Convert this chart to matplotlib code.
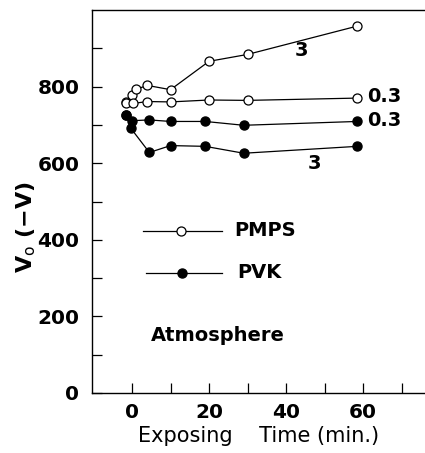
import numpy as np
import matplotlib.pyplot as plt

# PMPS (open circles)
pmps_3_t = [-1.5, 0, 1, 4, 10, 20, 30, 58.5]
pmps_3_v = [760, 778, 793, 803, 792, 866, 884, 958]
pmps_03_t = [-1.5, 0.3, 4, 10, 20, 30, 58.5]
pmps_03_v = [758, 756, 761, 760, 765, 764, 770]

# PVK (filled circles)
pvk_03_t = [-1.5, 0, 4.5, 10, 19, 29, 58.5]
pvk_03_v = [726, 711, 713, 709, 709, 699, 709]
pvk_3_t = [-1.5, -0.3, 4.5, 10, 19, 29, 58.5]
pvk_3_v = [726, 691, 628, 646, 644, 626, 644]

xticks = [0, 20, 40, 60]
yticks = [0, 200, 400, 600, 800]

fig = plt.figure(figsize=(4.25, 4.53), dpi=100)
ax = fig.add_axes([92/425, 1-393/453, 1-92/425, 383/453])

lw = 0.9
ms = 6.5
open_kw = dict(color='black', lw=lw, marker='o', ms=ms, mfc='white', mec='black', mew=0.9)
fill_kw = dict(color='black', lw=lw, marker='o', ms=ms, mfc='black', mec='black')

ax.plot(pmps_3_t, pmps_3_v, **open_kw)
ax.plot(pmps_03_t, pmps_03_v, **open_kw)
ax.plot(pvk_03_t, pvk_03_v, **fill_kw)
ax.plot(pvk_3_t, pvk_3_v, **fill_kw)

# curve labels
lab = dict(fontsize=14, fontweight='bold', va='center')
ax.text(44, 893, '3', ha='center', **lab)
ax.text(61, 773, '0.3', ha='left', **lab)
ax.text(61, 712, '0.3', ha='left', **lab)
ax.text(47.5, 600, '3', ha='center', **lab)

# hand drawn legend
ax.plot([2.9, 23.4], [424, 424], color='black', lw=lw)
ax.plot([12.7], [424], **open_kw)
ax.plot([3.5, 23.4], [314, 314], color='black', lw=lw)
ax.plot([12.9], [314], **fill_kw)
ax.text(26.6, 424, 'PMPS', fontsize=14, fontweight='bold', va='center')
ax.text(27.3, 314, 'PVK', fontsize=14, fontweight='bold', va='center')
ax.text(5.0, 149, 'Atmosphere', fontsize=14, fontweight='bold', va='center')

ax.set_xlim(-10.4, 76.1)
ax.set_ylim(0, 1000)
ax.set_xticks(xticks)
ax.set_xticks(np.arange(10, 80, 20), minor=True)
ax.set_yticks(yticks)
ax.set_yticks(np.arange(100, 1000, 200), minor=True)
ax.tick_params(which='both', direction='in', length=7, width=0.9)
ax.tick_params(labelsize=14.5)
ax.tick_params(axis='x', pad=7)
ax.tick_params(axis='y', pad=9)
for t in ax.get_xticklabels() + ax.get_yticklabels():
    t.set_fontweight('bold')
ax.spines['right'].set_visible(False)
for s in ['left', 'bottom', 'top']:
    ax.spines[s].set_linewidth(1.0)

ax.set_xlabel('Exposing    Time (min.)', fontsize=15, labelpad=3)
fig.text(26/425, 1-227/453, 'V$_\\mathrm{o}$ (\u2212V)', fontsize=16,
         fontweight='bold', rotation=90, ha='center', va='center')

fig.savefig('out.png', dpi=100)
